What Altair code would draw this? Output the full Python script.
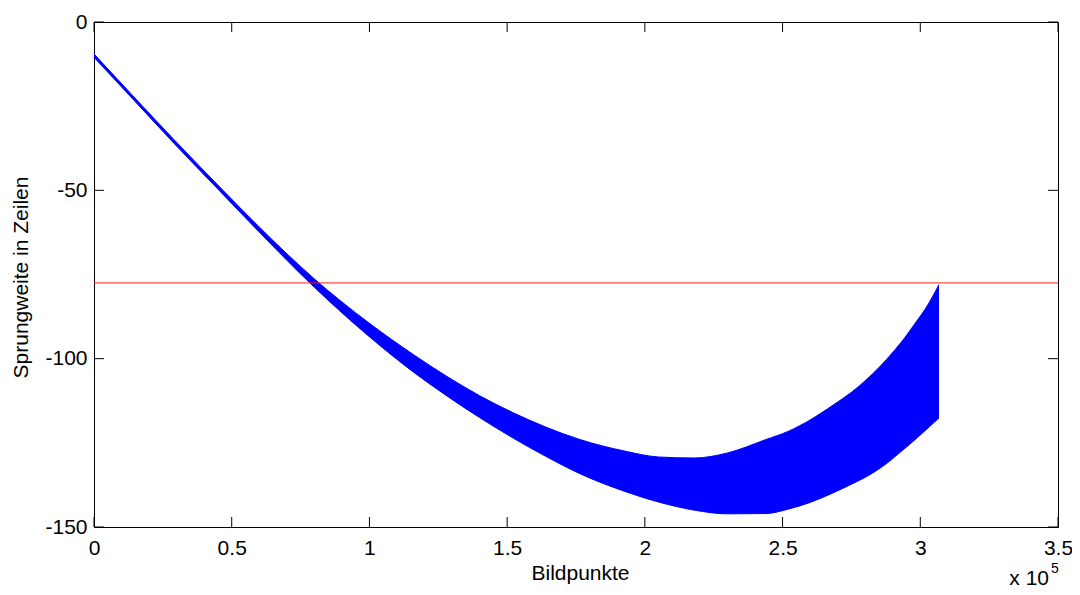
import altair as alt
import pandas as pd

# Envelope of the oscillating "Sprungweite" curve
bildpunkte = [0, 14000, 29000, 46000, 60000, 80000, 100000, 116000, 128000, 140000,
              152000, 164000, 176000, 193000, 205000, 218000, 230000, 244000, 252000,
              260000, 268500, 275000, 281000, 288000, 293000, 299000, 302000, 306800]
upper = [-9.5, -21.8, -34.9, -49.3, -60.9, -76.3, -89.5, -98.8, -105.2, -111.0,
         -116.0, -120.3, -123.9, -127.5, -129.2, -129.5, -128.0, -124.0, -121.6,
         -118.2, -113.7, -110.0, -105.8, -100.0, -95.2, -88.5, -85.0, -78.0]
lower = [-10.5, -22.8, -36.0, -50.5, -62.4, -78.8, -93.5, -104.0, -111.0, -117.5,
         -123.5, -129.0, -134.0, -139.5, -142.6, -145.0, -146.1, -146.0, -144.7,
         -142.7, -139.8, -137.3, -134.8, -131.0, -127.6, -123.4, -121.2, -117.6]

threshold = [-77.5]
x_ticks = [0, 50000, 100000, 150000, 200000, 250000, 300000, 350000]
y_ticks = [0, -50, -100, -150]

W, H = 964, 505
FONT = "Liberation Sans"
FS = 21

band = pd.DataFrame({"x": bildpunkte, "y": upper, "y2": lower})
xt = pd.DataFrame({"x": x_ticks})
yt = pd.DataFrame({"y": y_ticks})
thr = pd.DataFrame({"y": threshold})

xscale = alt.Scale(domain=[0, 350000], nice=False, zero=False)
yscale = alt.Scale(domain=[-150, 0], nice=False, zero=False)

xaxis = alt.Axis(values=x_ticks, labelExpr="'' + (datum.value / 100000)",
                 ticks=False, tickSize=0, domain=False, grid=False,
                 labelFontSize=FS, labelFont=FONT, labelColor="black",
                 labelPadding=10, labelFlush=False, labelOverlap=False,
                 title="Bildpunkte", titleFont=FONT, titleFontSize=FS,
                 titleFontWeight="normal", titleColor="black",
                 titleX=486, titleY=52, titleBaseline="alphabetic")
yaxis = alt.Axis(values=y_ticks, labelExpr="'' + datum.value",
                 ticks=False, tickSize=0, domain=False, grid=False,
                 labelFontSize=FS, labelFont=FONT, labelColor="black",
                 labelPadding=7, labelOverlap=False, labelFlush=False,
                 title="Sprungweite in Zeilen", titleFont=FONT, titleFontSize=FS,
                 titleFontWeight="normal", titleColor="black",
                 titleAngle=270, titleX=-67, titleY=255,
                 titleBaseline="alphabetic", titleAlign="center")

area = alt.Chart(band).mark_area(color="#0000ff", opacity=1, interpolate="monotone").encode(
    x=alt.X("x:Q", scale=xscale, axis=xaxis),
    y=alt.Y("y:Q", scale=yscale, axis=yaxis),
    y2="y2:Q",
)
line_up = alt.Chart(band).mark_line(color="#0000ff", strokeWidth=1, interpolate="monotone").encode(
    x="x:Q", y="y:Q")
line_lo = alt.Chart(band).mark_line(color="#0000ff", strokeWidth=1, interpolate="monotone").encode(
    x="x:Q", y="y2:Q")

red = alt.Chart(thr).mark_rule(color="#ff2020", strokeWidth=1).encode(y="y:Q")

tick_b = alt.Chart(xt).mark_rule(color="black", strokeWidth=1).encode(
    x="x:Q", y=alt.value(H), y2=alt.value(H - 10))
tick_t = alt.Chart(xt).mark_rule(color="black", strokeWidth=1).encode(
    x="x:Q", y=alt.value(0), y2=alt.value(10))
tick_l = alt.Chart(yt).mark_rule(color="black", strokeWidth=1).encode(
    y="y:Q", x=alt.value(0), x2=alt.value(10))
tick_r = alt.Chart(yt).mark_rule(color="black", strokeWidth=1).encode(
    y="y:Q", x=alt.value(W), x2=alt.value(W - 10))

exp_txt = alt.Chart(pd.DataFrame({"t": ["x 10"]})).mark_text(
    font=FONT, fontSize=FS, align="right", baseline="alphabetic", color="black"
).encode(x=alt.value(955), y=alt.value(563), text="t:N")
exp_sup = alt.Chart(pd.DataFrame({"t": ["5"]})).mark_text(
    font=FONT, fontSize=14, align="left", baseline="alphabetic", color="black"
).encode(x=alt.value(957), y=alt.value(551), text="t:N")

chart = alt.layer(
    area, line_up, line_lo, red, tick_b, tick_t, tick_l, tick_r, exp_txt, exp_sup
).properties(
    width=W, height=H,
    autosize=alt.AutoSizeParams(type="none"),
    padding={"left": 86, "top": 14, "right": 14, "bottom": 63},
    background="white",
).configure_view(stroke="black", strokeWidth=1)

chart.save("out.html", embed_options={"renderer": "svg", "actions": False})
